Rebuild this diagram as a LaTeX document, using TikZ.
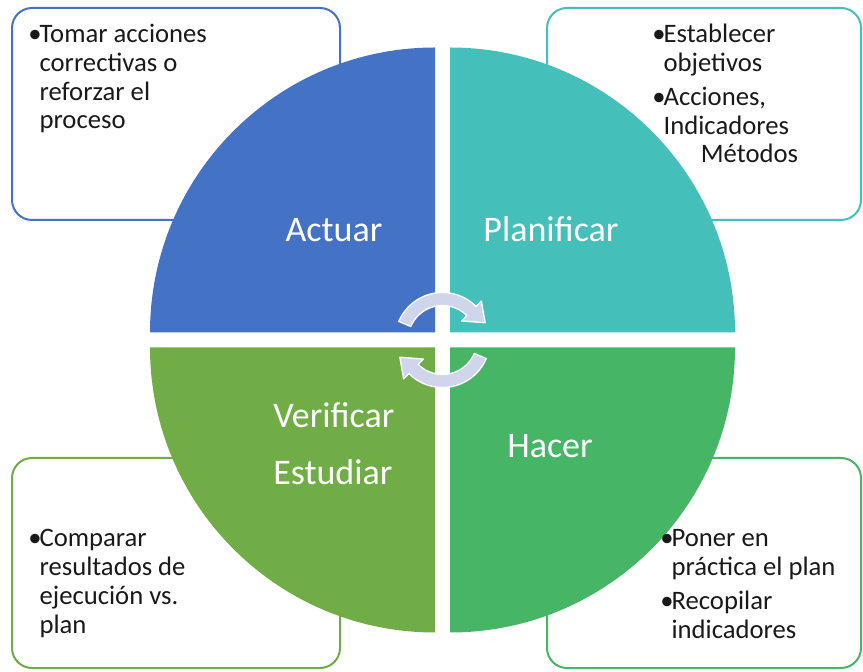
\documentclass[tikz,border=0pt]{standalone}
\usepackage{fontspec}
\setmainfont{Carlito}
\usetikzlibrary{calc}

\definecolor{actuarc}{HTML}{4472C4}
\definecolor{planc}{HTML}{44BFB9}
\definecolor{verc}{HTML}{70AD47}
\definecolor{hacerc}{HTML}{47B566}
\definecolor{arrowc}{HTML}{CFD5EA}

\newcommand\bul{\makebox[8.5pt][l]{•}}
\newcommand\ind{\hspace*{8.5pt}}

\begin{document}
\begin{tikzpicture}[x=0.75pt,y=0.75pt,line cap=round,line join=round,
  note/.style={line width=1.5pt,rounded corners=15pt},
  notetext/.style={anchor=base west,inner sep=0pt,text=black!90,
    font=\fontsize{20}{21.5}\selectfont},
  phase/.style={anchor=base,inner sep=0pt,text=white,
    font=\fontsize{27}{42.75}\selectfont},
  cyclearrow/.style={fill=arrowc,draw=white,line width=1pt}]

\useasboundingbox (0,0) rectangle (863,671);

\def\R{285}
\def\g{7.5}
\coordinate (O) at (442.5,331);

% note boxes behind the circle
\draw[note,draw=actuarc] (12,451) rectangle (340,663);
\draw[note,draw=planc] (547,451) rectangle (861,663);
\draw[note,draw=verc] (12,3) rectangle (340,213);
\draw[note,draw=hacerc] (547,3) rectangle (861,213);

% quadrants
\coordinate (Aq) at ($(O)+(-\g,\g)$);
\coordinate (Pq) at ($(O)+(\g,\g)$);
\coordinate (Vq) at ($(O)+(-\g,-\g)$);
\coordinate (Hq) at ($(O)+(\g,-\g)$);

\fill[actuarc] (Aq) -- ++(-\R,0) arc[start angle=180,end angle=90,radius=\R] -- cycle;
\fill[planc] (Pq) -- ++(0,\R) arc[start angle=90,end angle=0,radius=\R] -- cycle;
\fill[verc] (Vq) -- ++(-\R,0) arc[start angle=180,end angle=270,radius=\R] -- cycle;
\fill[hacerc] (Hq) -- ++(\R,0) arc[start angle=0,end angle=-90,radius=\R] -- cycle;

% phase labels
\node[phase] (actuar) at (334,429) {Actuar};
\node[phase] (planificar) at (551,429) {Planificar};
\node[phase,anchor=base west] (verificar) at (273,243)
  {\begin{tabular}[t]{@{}l@{}}Verificar\\Estudiar\end{tabular}};
\node[phase] (hacer) at (550,213) {Hacer};

% note texts
\node[notetext] (tomar) at (28,628)
  {\begin{tabular}[t]{@{}l@{}}\bul Tomar acciones\\\ind correctivas o\\
   \ind reforzar el\\\ind proceso\end{tabular}};
\node[notetext] (establecer) at (652,628)
  {\begin{tabular}[t]{@{}l@{}}\bul Establecer\\\ind objetivos\\[4pt]
   \bul Acciones,\\\ind Indicadores\\\ind\hspace*{28pt}Métodos\end{tabular}};
\node[notetext] (comparar) at (28,124)
  {\begin{tabular}[t]{@{}l@{}}\bul Comparar\\\ind resultados de\\
   \ind ejecución vs.\\\ind plan\end{tabular}};
\node[notetext] (poner) at (660,124)
  {\begin{tabular}[t]{@{}l@{}}\bul Poner en\\\ind práctica el plan\\[4pt]
   \bul Recopilar\\\ind indicadores\end{tabular}};

% cycle arrows in the middle
\foreach \a in {0,180}
  \filldraw[cyclearrow] ($(O)+({157+\a}:47.5)$)
    arc[start angle={157+\a},end angle={45+\a},radius=47.5]
    -- ($(O)+({45+\a}:55)$) -- ($(O)+({22+\a}:46)$) -- ($(O)+({45+\a}:27)$)
    -- ($(O)+({45+\a}:34.5)$)
    arc[start angle={45+\a},end angle={157+\a},radius=34.5] -- cycle;
\end{tikzpicture}
\end{document}
